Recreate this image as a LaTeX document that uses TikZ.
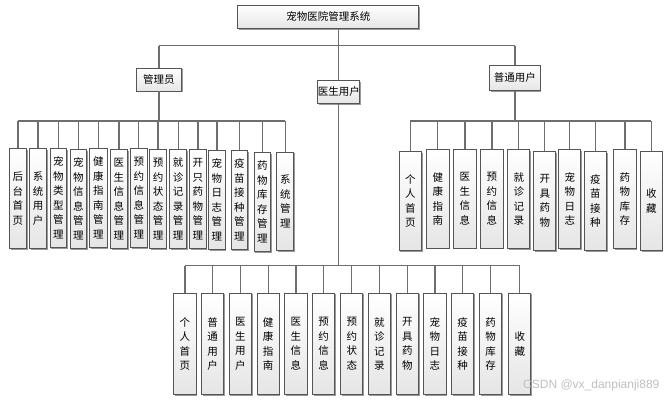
\documentclass[tikz,border=0pt]{standalone}
\usepackage{fontspec}
\newfontfamily\cjk{Noto Sans CJK SC}
\usetikzlibrary{shadows}
\definecolor{boxline}{HTML}{555555}
\definecolor{conn}{HTML}{6E6E6E}
\begin{document}
\begin{tikzpicture}[x=1pt,y=-1pt,
  box/.style={draw=boxline, line width=0.9pt, top color=white, bottom color=black!10,
    drop shadow={shadow xshift=1.3pt, shadow yshift=-1.3pt, fill=black!40, opacity=1},
    inner sep=0pt, align=center, anchor=north west},
  leaffont/.style={font=\cjk\fontsize{10.5}{14.5}\selectfont},
  midfont/.style={font=\cjk\fontsize{10.5}{12}\selectfont},
  conn/.style={draw=conn, line width=1.2pt}]
\useasboundingbox (0,0) rectangle (669,400);
\newcommand\leaf[6]{\node[box,leaffont,minimum width=#4pt,minimum height=#5pt] (#1) at (#2,#3) {#6};}
% top level
\node[box,midfont,minimum width=181pt,minimum height=23pt] (top) at (237.3,5) {宠物医院管理系统};
\node[box,midfont,minimum width=45.6pt,minimum height=23pt] (adm) at (135.7,67.5) {管理员};
\node[box,midfont,minimum width=41pt,minimum height=23pt] (doc) at (317.3,80) {医生用户};
\node[box,midfont,minimum width=50.4pt,minimum height=25pt] (usr) at (489.3,65) {普通用户};
% admin leaves
\leaf{a1}{9}{148}{17}{100}{后\\台\\首\\页}
\leaf{a2}{29.3}{148}{16.5}{100}{系\\统\\用\\户}
\leaf{a3}{49.7}{148}{16.3}{99}{宠\\物\\类\\型\\管\\理}
\leaf{a4}{69.7}{149}{16.3}{99}{宠\\物\\信\\息\\管\\理}
\leaf{a5}{89.3}{148}{17.3}{99}{健\\康\\指\\南\\管\\理}
\leaf{a6}{110}{149}{17}{99}{医\\生\\信\\息\\管\\理}
\leaf{a7}{130}{148}{16.7}{99}{预\\约\\信\\息\\管\\理}
\leaf{a8}{149.4}{149}{16.3}{99}{预\\约\\状\\态\\管\\理}
\leaf{a9}{169.3}{149}{16.7}{99}{就\\诊\\记\\录\\管\\理}
\leaf{a10}{189.3}{149}{16.4}{99}{开\\只\\药\\物\\管\\理}
\leaf{a11}{208.3}{150}{16.4}{99}{宠\\物\\日\\志\\管\\理}
\leaf{a12}{230.7}{150}{16.6}{99}{疫\\苗\\接\\种\\管\\理}
\leaf{a13}{253.7}{152}{16.6}{99}{药\\物\\库\\存\\管\\理}
\leaf{a14}{276.3}{151.7}{17}{98.5}{系\\统\\管\\理}
% user leaves
\leaf{u1}{398.7}{151}{22.6}{99}{个\\人\\首\\页}
\leaf{u2}{426}{149}{22.7}{98.7}{健\\康\\指\\南}
\leaf{u3}{453.3}{149}{22.4}{98.7}{医\\生\\信\\息}
\leaf{u4}{480.3}{149}{22.4}{98.7}{预\\约\\信\\息}
\leaf{u5}{507.3}{149}{22}{99}{就\\诊\\记\\录}
\leaf{u6}{533.3}{151}{22}{99}{开\\具\\药\\物}
\leaf{u7}{558.3}{149}{22}{99}{宠\\物\\日\\志}
\leaf{u8}{584}{151}{22}{99}{疫\\苗\\接\\种}
\leaf{u9}{613.3}{149}{22.4}{99}{药\\物\\库\\存}
\leaf{u10}{640}{151}{21.7}{99}{收\\藏}
% doctor leaves
\leaf{d1}{173.3}{292.7}{22.4}{101.3}{个\\人\\首\\页}
\leaf{d2}{201}{292.7}{22.3}{101.3}{普\\通\\用\\户}
\leaf{d3}{228.7}{292.7}{22.3}{101.3}{医\\生\\用\\户}
\leaf{d4}{256.7}{292.7}{22}{101.3}{健\\康\\指\\南}
\leaf{d5}{284.3}{292.7}{22.4}{101.3}{医\\生\\信\\息}
\leaf{d6}{312}{292.7}{22.3}{101.3}{预\\约\\信\\息}
\leaf{d7}{340.3}{292.7}{22}{101.3}{预\\约\\状\\态}
\leaf{d8}{367.7}{292.7}{22.3}{101.3}{就\\诊\\记\\录}
\leaf{d9}{395.7}{292.7}{22.3}{101.3}{开\\具\\药\\物}
\leaf{d10}{423.3}{292.7}{22.4}{101.3}{宠\\物\\日\\志}
\leaf{d11}{451}{292.7}{22.3}{101.3}{疫\\苗\\接\\种}
\leaf{d12}{479}{292.7}{22.3}{101.3}{药\\物\\库\\存}
\leaf{d13}{508.3}{292.7}{22}{101.3}{收\\藏}
% bus coordinates
\coordinate (tb) at (0,45.7);
\coordinate (ab) at (0,121);
\coordinate (ub) at (0,121);
\coordinate (db) at (0,265.7);
% top level connectors
\draw[conn] (top.south -| doc.north) -- (doc.north);
\draw[conn] (adm.north |- tb) -- (usr.north |- tb);
\draw[conn] (adm.north) -- (adm.north |- tb);
\draw[conn] (usr.north) -- (usr.north |- tb);
% admin
\draw[conn] (adm.south) -- (adm.south |- ab);
\draw[conn] (a1.north |- ab) -- (a14.north |- ab);
\foreach \n in {a1,a2,a3,a4,a5,a6,a7,a8,a9,a10,a11,a12,a13,a14}
  \draw[conn] (\n.north) -- (\n.north |- ab);
% user
\draw[conn] (usr.south) -- (usr.south |- ub);
\draw[conn] (u1.north |- ub) -- (u10.north |- ub);
\foreach \n in {u1,u2,u3,u4,u5,u6,u7,u8,u9,u10}
  \draw[conn] (\n.north) -- (\n.north |- ub);
% doctor
\draw[conn] (doc.south) -- (doc.south |- db);
\draw[conn] (d1.north |- db) -- (d13.north |- db);
\foreach \n in {d1,d2,d3,d4,d5,d6,d7,d8,d9,d10,d11,d12,d13}
  \draw[conn] (\n.north) -- (\n.north |- db);
% watermark
\node[font=\fontsize{12}{13}\selectfont\fontspec{Liberation Sans}, text=black!25, anchor=west, inner sep=0pt] (wm) at (523,385) {CSDN @vx\_danpianji889};
\end{tikzpicture}
\end{document}
